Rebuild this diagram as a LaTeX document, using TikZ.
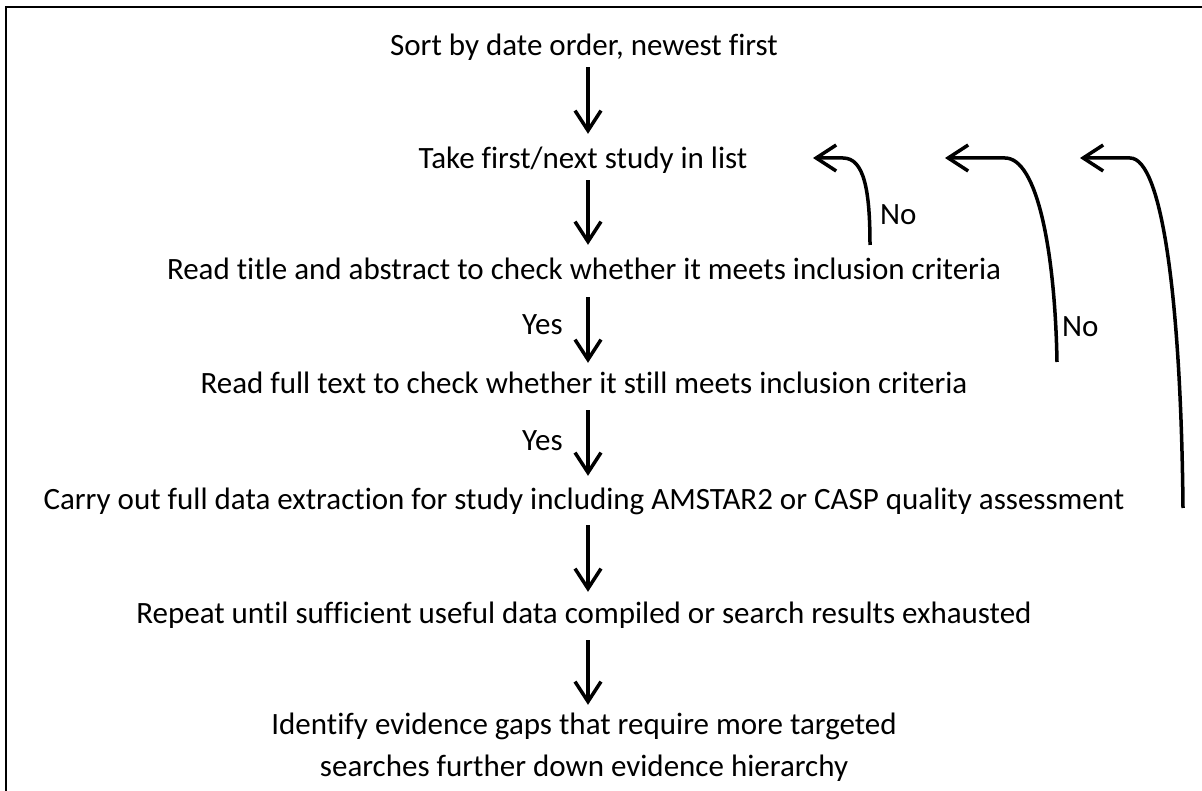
\documentclass[tikz,border=0pt]{standalone}
\usepackage{fontspec}
\setmainfont{Carlito}[Ligatures={NoCommon,NoRare,NoContextual}]
\usetikzlibrary{arrows.meta,calc}
\begin{document}
\begin{tikzpicture}[x=1pt,y=-1pt,
  txt/.style={anchor=base,inner sep=0pt,text height=19pt,text depth=7pt,font=\fontsize{31}{42}\selectfont},
  lbl/.style={anchor=base west,inner sep=0pt,font=\fontsize{31}{42}\selectfont},
  arr/.style={line width=3.5pt,-{Straight Barb[length=20pt,width=26pt,line width=3.5pt]}},
  back/.style={line width=3.5pt,-{Straight Barb[length=20pt,width=26pt,line width=3.5pt]}},
  frame/.style={line width=2.8pt}]
\useasboundingbox (0,0) rectangle (1202,791);
% frame
\draw[frame] (6,791) -- (6,7) -- (1202,7);
% steps
\node[txt] (s1) at (584,56) {Sort by date order, newest first};
\node[txt] (s2) at (583,169) {Take first/next study in list};
\node[txt] (s3) at (584,280) {Read title and abstract to check whether it meets inclusion criteria};
\node[txt] (s4) at (584,394) {Read full text to check whether it still meets inclusion criteria};
\node[txt] (s5) at (584,509) {Carry out full data extraction for study including AMSTAR2 or CASP quality assessment};
\node[txt] (s6) at (584,623) {Repeat until sufficient useful data compiled or search results exhausted};
\node[txt] (s7) at (584,734) {Identify evidence gaps that require more targeted};
\node[txt] (s8) at (584,776) {searches further down evidence hierarchy};
\coordinate (ax) at (588,0);
% down arrows
\draw[arr] ($(s1.south -| ax)+(0,4)$) -- ($(s2.north -| ax)+(0,-16)$);
\draw[arr] ($(s2.south -| ax)+(0,4)$) -- ($(s3.north -| ax)+(0,-16)$);
\draw[arr] ($(s3.south -| ax)+(0,10)$) -- ($(s4.north -| ax)+(0,-12)$);
\draw[arr] ($(s4.south -| ax)+(0,9)$) -- ($(s5.north -| ax)+(0,-14)$);
\draw[arr] ($(s5.south -| ax)+(0,9)$) -- ($(s6.north -| ax)+(0,-12)$);
\draw[arr] ($(s6.south -| ax)+(0,10)$) -- ($(s7.north -| ax)+(0,-10)$);
% labels
\node[lbl] (y1) at (522,335) {Yes};
\node[lbl] (y2) at (522,450) {Yes};
\node[lbl] (n1) at (880,225) {No};
\node[lbl] (n2) at (1062,337) {No};
% feedback arrows
\coordinate (f1s) at (870,245);
\coordinate (f1t) at (813,158);
\coordinate (f2s) at (1057,362);
\coordinate (f2t) at (945,158);
\coordinate (f3s) at (1183,508);
\coordinate (f3t) at (1080,158);
\draw[back] (f1s) .. controls (870,190) and (864,158) .. (843,158) -- (f1t);
\draw[back] (f2s) .. controls (1055,250) and (1037,158) .. (1005,158) -- (f2t);
\draw[back] (f3s) .. controls (1181,300) and (1162,158) .. (1130,158) -- (f3t);
\end{tikzpicture}
\end{document}
